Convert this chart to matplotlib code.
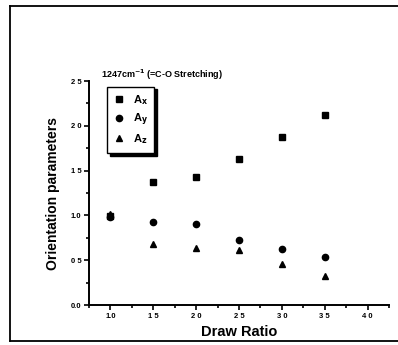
import matplotlib.pyplot as plt
from matplotlib.lines import Line2D
from matplotlib.ticker import MultipleLocator

plt.rcParams['font.family'] = ['Liberation Sans', 'DejaVu Sans']
plt.rcParams['font.weight'] = 'bold'
plt.rcParams['mathtext.default'] = 'bf'

draw_ratio = [1.0, 1.5, 2.0, 2.5, 3.0, 3.5]
a_x = [0.99, 1.37, 1.43, 1.63, 1.875, 2.12]
a_y = [0.98, 0.93, 0.90, 0.73, 0.63, 0.54]
a_z = [1.02, 0.68, 0.64, 0.61, 0.46, 0.32]

x_ticks = [1.0, 1.5, 2.0, 2.5, 3.0, 3.5, 4.0]
x_labels = ['1.0', '1 5', '2 0', '2 5', '3 0', '3 5', '4 0']
y_ticks = [0.0, 0.5, 1.0, 1.5, 2.0, 2.5]
y_labels = ['0.0', '0 5', '1.0', '1 5', '2 0', '2 5']

fig = plt.figure(figsize=(3.98, 3.45), dpi=100)
ax = fig.add_axes([89 / 398, 40 / 345, 300 / 398, 224 / 345])

ax.plot(draw_ratio, a_x, 's', color='black', ms=4.2, label=r'A$_x$')
ax.plot(draw_ratio, a_y, 'o', color='black', ms=4.5, label=r'A$_y$')
ax.plot(draw_ratio, a_z, '^', color='black', ms=4.7, label=r'A$_z$')

ax.set_xlim(0.75, 4.25)
ax.set_ylim(0, 2.5)
ax.set_xticks(x_ticks, x_labels)
ax.set_yticks(y_ticks, y_labels)
ax.xaxis.set_minor_locator(MultipleLocator(0.25))
ax.yaxis.set_minor_locator(MultipleLocator(0.25))
ax.tick_params(which='both', direction='out', width=1.2, labelsize=5.5, pad=2)
ax.tick_params(which='major', length=3.5)
ax.tick_params(which='minor', length=2)
for side in ['top', 'right']:
    ax.spines[side].set_visible(False)
for side in ['left', 'bottom']:
    ax.spines[side].set_linewidth(1.4)

ax.set_xlabel('Draw Ratio', fontsize=10.5, fontweight='bold', labelpad=4)
ax.set_ylabel('Orientation parameters', fontsize=10, fontweight='bold', labelpad=8)

ax.text(0.04, 1.027, r'1247cm$^{-1}$ (=C-O Stretching)', transform=ax.transAxes,
        fontsize=6.5, fontweight='bold', ha='left', va='center')

leg = ax.legend(loc='upper left', bbox_to_anchor=(0.06, 0.975), fancybox=False,
                shadow={'color': 'black', 'alpha': 1}, edgecolor='black',
                fontsize=8, labelspacing=0.4, handlelength=1.0, handletextpad=0.7,
                borderpad=0.6, borderaxespad=0, framealpha=1)
leg.get_frame().set_linewidth(1.0)

# frame around the scanned figure
fig.add_artist(Line2D([10 / 398, 10 / 398], [4 / 345, 339 / 345], color='black', lw=1.3))
fig.add_artist(Line2D([10 / 398, 1.0], [339 / 345, 339 / 345], color='black', lw=1.3))
fig.add_artist(Line2D([10 / 398, 1.0], [4 / 345, 4 / 345], color='black', lw=1.3))

fig.savefig('out.png', dpi=100)
